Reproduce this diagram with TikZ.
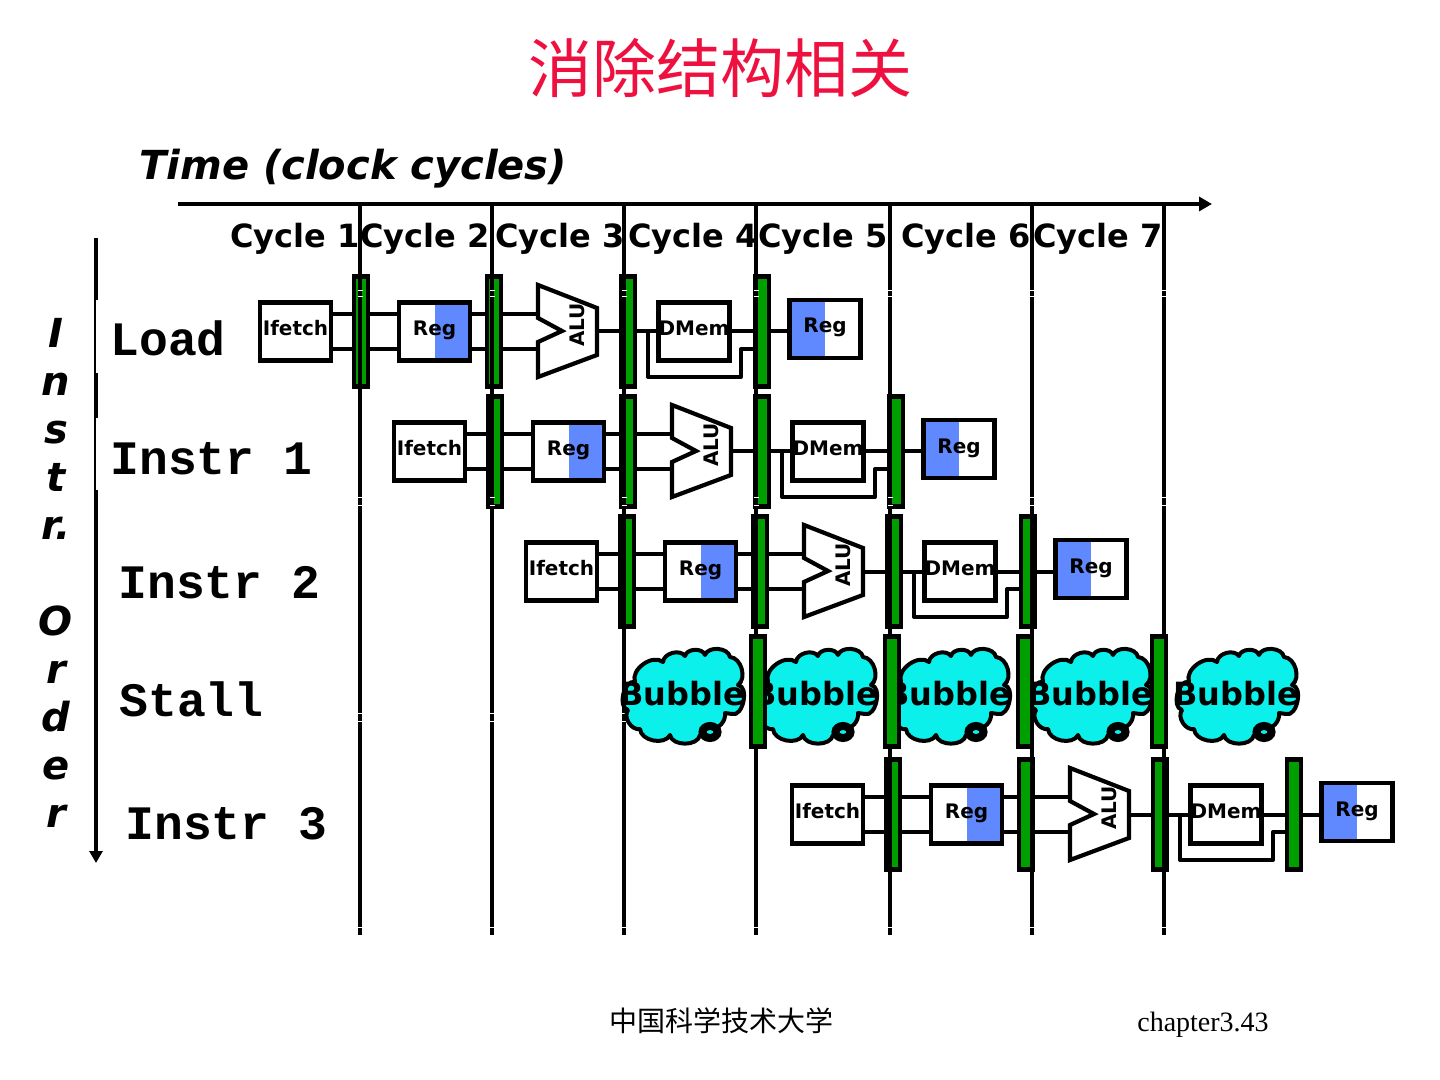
\documentclass[tikz,border=0pt]{standalone}
\usepackage{fontspec}
\usepackage{xcolor}
\usetikzlibrary{arrows.meta}
\newfontfamily\dejavu{DejaVu Sans}
\newfontfamily\monobold[BoldFont={Liberation Mono Bold}]{Liberation Mono}
\newfontfamily\timesfont{Liberation Serif}
\newfontfamily\cjk{Noto Sans CJK SC}
\definecolor{titlered}{HTML}{EE1140}
\definecolor{latchgreen}{HTML}{009F00}
\definecolor{regblue}{HTML}{6088FF}
\definecolor{bubblecyan}{HTML}{0CF0EC}
\tikzset{
  wire/.style={line width=2pt, line join=round},
  clockline/.style={line width=2.1pt},
  stagebox/.style={draw, line width=2.2pt, fill=white, minimum width=35.5pt, minimum height=29pt,
    inner sep=0pt, text height=6.5pt, text depth=2.5pt, font=\dejavu\fontsize{10}{12}\bfseries},
  regread/.style={stagebox, path picture={\fill[regblue] (path picture bounding box.north) rectangle (path picture bounding box.south east);}},
  regwrite/.style={stagebox, path picture={\fill[regblue] (path picture bounding box.north) rectangle (path picture bounding box.south west);}},
  latchbar/.style={draw, line width=2.2pt, fill=latchgreen, minimum width=7pt, minimum height=55pt, inner sep=0pt},
  alubody/.style={draw, line width=2.1pt, fill=white, line join=miter},
  cyclelabel/.style={anchor=base west, inner sep=0pt, font=\dejavu\fontsize{16}{19}\bfseries},
  rowlabel/.style={anchor=base west, inner sep=0pt, font=\monobold\fontsize{24}{28}\bfseries},
  bubbletext/.style={anchor=base, inner sep=0pt, font=\dejavu\fontsize{16}{19}\bfseries},
  cloudline/.style={draw, line width=2pt, fill=bubblecyan, line join=round},
}
% one instruction: IF, ID, EX, MEM, WB with its four latches
\newcommand{\pipelinerow}[3]{
  \begin{scope}[shift={(#2,#3)}]
    \node[stagebox] (#1if) at (295.5,331.5) {Ifetch};
    \node[regread] (#1id) at (434.5,331.5) {Reg};
    \node[stagebox] (#1mem) at (694,331.5) {DMem};
    \node[regwrite] (#1wb) at (825,329) {Reg};
    \node[latchbar] (#1la) at (361,331.5) {};
    \node[latchbar] (#1lb) at (494,331.5) {};
    \node[latchbar] (#1lc) at (628,331.5) {};
    \node[latchbar] (#1ld) at (762,331.5) {};
    % ALU
    \draw[alubody] (538,285) -- (597,308) -- (597,355) -- (538,377) -- (538,342) -- (562,331) -- (538,318) -- cycle;
    \node[rotate=90, inner sep=0pt, font=\dejavu\fontsize{10}{12}\bfseries] (#1alu) at (577,325) {ALU};
    \coordinate (#1aluinup) at (538,314);
    \coordinate (#1aluindown) at (538,349);
    \coordinate (#1aluout) at (597,331.5);
    \coordinate (#1tap) at (648,331.5);
    % Wires
    \draw[wire] ([yshift=8.75pt]#1if.east) -- ([yshift=8.75pt]#1la.west);
    \draw[wire] ([yshift=-8.75pt]#1if.east) -- ([yshift=-8.75pt]#1la.west);
    \draw[wire] ([yshift=8.75pt]#1la.east) -- ([yshift=8.75pt]#1id.west);
    \draw[wire] ([yshift=-8.75pt]#1la.east) -- ([yshift=-8.75pt]#1id.west);
    \draw[wire] ([yshift=8.75pt]#1id.east) -- ([yshift=8.75pt]#1lb.west);
    \draw[wire] ([yshift=-8.75pt]#1id.east) -- ([yshift=-8.75pt]#1lb.west);
    \draw[wire] ([yshift=8.75pt]#1lb.east) -- (#1aluinup);
    \draw[wire] ([yshift=-8.75pt]#1lb.east) -- (#1aluindown);
    \draw[wire] (#1aluout) -- (#1lc.west);
    \draw[wire] (#1lc.east) -- (#1mem.west);
    \draw[wire] (#1mem.east) -- (#1ld.west);
    \draw[wire] (#1ld.east) -- ([yshift=-1.25pt]#1wb.west);
    \draw[wire] (#1tap) -- (648,377) -- (741,377) -- (741,349) -- ([yshift=-8.75pt]#1ld.west);
  \end{scope}
}
% stall cloud with its little tail
\newcommand{\bubblecloud}[2]{
  \begin{scope}[shift={(#2,696)}]
    \draw[cloudline] (-47,-14) to[bend left=75] (-19,-34) to[bend left=70] (3,-40) to[bend left=75] (23,-41)
      to[bend left=75] (48,-39) to[bend left=70] (56,-11) to[bend left=95] (50,18) -- (43,17)
      to[bend left=50] (28,33) to[bend left=50] (18,39) to[bend left=80] (-12,39) to[bend left=75] (-42,33)
      to[bend left=70] (-54,14) to[bend left=90] (-47,-14) -- cycle;
    \draw[line width=4pt, fill=bubblecyan] (28,36) ellipse (7.5 and 6);
    \node[bubbletext] (#1) at (0,9.5) {Bubble};
  \end{scope}
}

\begin{document}
\begin{tikzpicture}[x=0.5pt, y=-0.5pt]
  \useasboundingbox (0,0) rectangle (1440,1080);

  % Title and footer
  \node[inner sep=0pt, text=titlered, font=\cjk\fontsize{32}{36}\selectfont] (title) at (720,68) {消除结构相关};
  \node[inner sep=0pt, font=\cjk\fontsize{14}{16}\selectfont] (school) at (721,1021) {中国科学技术大学};
  \node[anchor=base, inner sep=0pt, font=\timesfont\fontsize{14}{16}\selectfont] (pageno) at (1203,1031) {chapter3.43};

  % Time axis
  \node[anchor=base west, inner sep=0pt, font=\dejavu\fontsize{20}{24}\bfseries\itshape] (timelabel) at (139,180) {Time (clock cycles)};
  \draw[line width=2.1pt, -{Triangle[length=6.5pt, width=7pt]}] (178,204) -- (1212,204);
  \foreach \x/\n in {230/1, 360/2, 495/3, 628/4, 758/5, 901/6, 1033/7}
    \node[cyclelabel] (cycle\n) at (\x,248) {Cycle \n};

  % Order axis
  \draw[line width=2.1pt] (96,238) -- (96,300);
  \draw[line width=1pt] (95,300) -- (95,373);
  \draw[line width=2.1pt] (96,373) -- (96,418);
  \draw[line width=1pt] (95,418) -- (95,490);
  \draw[line width=2.1pt, -{Triangle[length=6pt, width=6.5pt]}] (96,490) -- (96,863);
  \node[align=center, inner sep=0pt, font=\dejavu\fontsize{20}{24}\bfseries\itshape] (orderlabel) at (56,573)
    {I\\n\\s\\t\\r.\\ \\O\\r\\d\\e\\r};

  % Row names
  \node[rowlabel] (loadname) at (110,356) {Load};
  \node[rowlabel] (instronename) at (110,474) {Instr 1};
  \node[rowlabel] (instrtwoname) at (118,598) {Instr 2};
  \node[rowlabel] (stallname) at (119,716) {Stall};
  \node[rowlabel] (instrthreename) at (125,839) {Instr 3};

  % Pipelines
  \pipelinerow{load}{0}{0}
  \pipelinerow{ione}{134}{120}
  \pipelinerow{itwo}{266}{240}
  \pipelinerow{ithree}{532}{483}

  % Clock lines, in front of the latches
  \foreach \x in {360,492,624,756,890,1032,1164} {
    \draw[clockline] (\x,204) -- (\x,935);
    \foreach \y in {291,297,497,505,713,721,927}
      \draw[white, line width=0.5pt] (\x-2.5,\y) -- (\x+2.5,\y);
  }

  % Stall
  \bubblecloud{bubbleone}{682}
  \bubblecloud{bubbletwo}{815}
  \bubblecloud{bubblethree}{948}
  \bubblecloud{bubblefour}{1090}
  \bubblecloud{bubblefive}{1236}
  \foreach \x/\n in {758/a, 892/b, 1025/c, 1159/d}
    \node[latchbar] (stall\n) at (\x,691.5) {};
\end{tikzpicture}
\end{document}
